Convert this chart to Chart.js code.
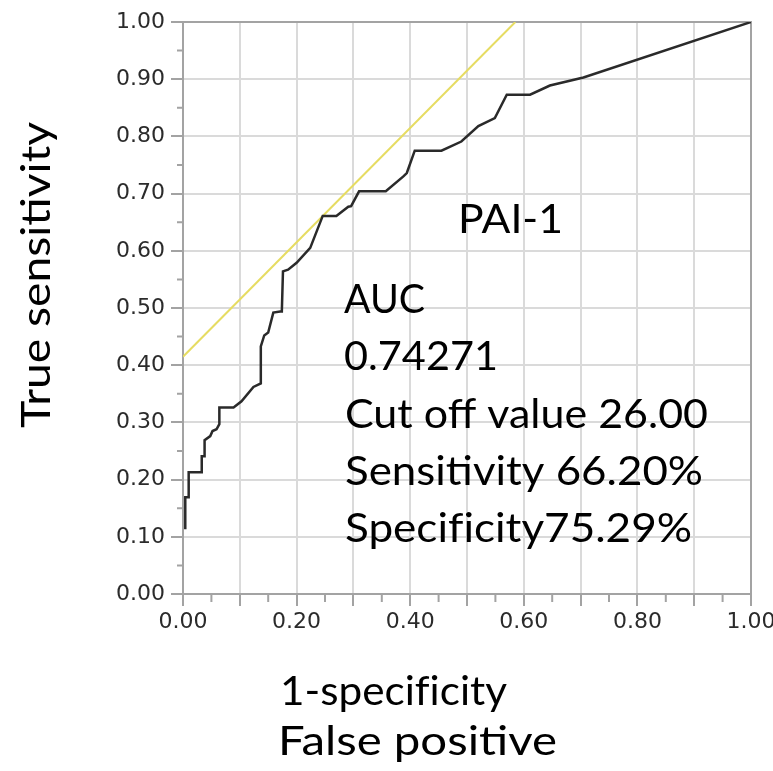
<!DOCTYPE html>
<html>
<head>
<meta charset="utf-8">
<title>PAI-1 ROC</title>
<script src="https://cdn.jsdelivr.net/npm/chart.js@4.4.1/dist/chart.umd.min.js"></script>
<style>
    html, body { margin: 0; padding: 0; background: #ffffff; }
    #wrap { width: 773px; height: 771px; position: relative; }
</style>
</head>
<body>
<div id="wrap"><canvas id="rocChart" width="773" height="771"></canvas></div>
<script>
// ROC curve points: false positive rate and true positive rate
const fprValues = [0.004, 0.004, 0.010, 0.010, 0.033, 0.033, 0.038, 0.038, 0.048, 0.052,
    0.059, 0.064, 0.064, 0.089, 0.103, 0.124, 0.137, 0.137, 0.143, 0.150,
    0.159, 0.171, 0.174, 0.176, 0.185, 0.200, 0.224, 0.246, 0.270, 0.291,
    0.296, 0.310, 0.357, 0.388, 0.394, 0.408, 0.455, 0.490, 0.520, 0.549,
    0.570, 0.611, 0.646, 0.705, 1.000];
const tprValues = [0.113, 0.169, 0.169, 0.213, 0.213, 0.241, 0.241, 0.269, 0.276, 0.285,
    0.288, 0.297, 0.326, 0.326, 0.337, 0.362, 0.368, 0.433, 0.452, 0.457,
    0.492, 0.494, 0.494, 0.564, 0.567, 0.579, 0.605, 0.661, 0.661, 0.677,
    0.678, 0.704, 0.704, 0.730, 0.736, 0.775, 0.775, 0.791, 0.818, 0.832,
    0.873, 0.873, 0.889, 0.903, 1.000];

// Summary numbers for the chosen cut off
const markerName = 'PAI-1';
const aucValue = '0.74271';
const cutOffValue = '26.00';
const sensitivity = 0.6620;
const specificity = 0.7529;

const tickValues = [0, 0.1, 0.2, 0.3, 0.4, 0.5, 0.6, 0.7, 0.8, 0.9, 1.0];

// tangent line through the cut off point (slope 1)
const intercept = sensitivity - (1 - specificity);
const tangentLine = [{x: 0, y: intercept}, {x: 1 - intercept, y: 1}];

const rocPoints = fprValues.map((x, i) => ({x: x, y: tprValues[i]}));

const AXIS_GRAY = '#a3a3a3';
const GRID_GRAY = '#dadada';
const LABEL_FONT = 'Lato, "Open Sans", sans-serif';

// draws text squeezed/stretched to a given width
function fitText(ctx, text, x, y, width, size, rotate) {
    // zero-width non-joiner after "f" so Lato doesn't draw the fi ligature
    const shown = text.replace(/f(?=[il])/g, 'f\u200C');
    ctx.save();
    ctx.font = size + 'px ' + LABEL_FONT;
    const w = ctx.measureText(shown).width;
    ctx.translate(x, y);
    if (rotate) ctx.rotate(-Math.PI / 2);
    ctx.scale(width / w, 1);
    ctx.fillStyle = '#000000';
    ctx.textBaseline = 'alphabetic';
    ctx.textAlign = 'left';
    ctx.fillText(shown, 0, 0);
    ctx.restore();
}

const framePlugin = {
    id: 'framePlugin',
    beforeDatasetsDraw(chart) {
        const ctx = chart.ctx;
        const a = chart.chartArea;
        ctx.save();
        ctx.strokeStyle = AXIS_GRAY;
        ctx.lineWidth = 2;
        ctx.strokeRect(a.left, a.top, a.right - a.left, a.bottom - a.top);

        // minor ticks half way between the labelled ones
        const xs = chart.scales.x;
        const ys = chart.scales.y;
        ctx.lineWidth = 2;
        ctx.beginPath();
        for (let i = 0; i < tickValues.length - 1; i++) {
            const v = (tickValues[i] + tickValues[i + 1]) / 2;
            const px = xs.getPixelForValue(v);
            ctx.moveTo(px, a.bottom);
            ctx.lineTo(px, a.bottom + 8);
            const py = ys.getPixelForValue(v);
            ctx.moveTo(a.left, py);
            ctx.lineTo(a.left - 6, py);
        }
        ctx.stroke();
        ctx.restore();
    },
    afterDraw(chart) {
        const ctx = chart.ctx;
        // axis titles
        fitText(ctx, 'True sensitivity', 50, 428, 306, 40, true);
        fitText(ctx, '1-specificity', 280, 705, 227, 40);
        fitText(ctx, 'False positive', 278, 755, 279, 40);
        // annotation block
        fitText(ctx, markerName, 458, 233, 105, 40);
        fitText(ctx, 'AUC', 344, 313, 81, 40);
        fitText(ctx, aucValue, 344, 370, 154, 40);
        fitText(ctx, 'Cut off value ' + cutOffValue, 345, 428, 363, 40);
        fitText(ctx, 'Sensitivity ' + (sensitivity * 100).toFixed(2) + '%', 345, 485, 358, 40);
        fitText(ctx, 'Specificity' + (specificity * 100).toFixed(2) + '%', 345, 542, 347, 40);
    }
};

const ctx = document.getElementById('rocChart').getContext('2d');
new Chart(ctx, {
    type: 'scatter',
    data: {
        datasets: [{
            data: rocPoints,
            showLine: true,
            borderColor: '#2a2a2a',
            borderWidth: 2.5,
            pointRadius: 0,
            tension: 0
        }, {
            data: tangentLine,
            showLine: true,
            borderColor: '#e6dc62',
            borderWidth: 2,
            pointRadius: 0
        }]
    },
    options: {
        responsive: false,
        animation: false,
        layout: { padding: { top: 22, right: 22, left: 0, bottom: 0 } },
        plugins: {
            legend: { display: false },
            tooltip: { enabled: false }
        },
        scales: {
            x: {
                type: 'linear',
                min: 0,
                max: 1,
                afterBuildTicks(scale) {
                    scale.ticks = tickValues.map(v => ({value: v}));
                },
                afterFit(scale) {
                    scale.height = 177;
                    scale.paddingLeft = 0;
                    scale.paddingRight = 0;
                },
                ticks: {
                    // only every other tenth carries a label
                    callback: (v, i) => (i % 2 === 0 ? v.toFixed(2) : ''),
                    color: '#2b2b2b',
                    font: { family: 'DejaVu Sans', size: 22 },
                    padding: 3,
                    maxRotation: 0,
                    autoSkip: false
                },
                grid: {
                    color: GRID_GRAY,
                    lineWidth: 2,
                    tickColor: AXIS_GRAY,
                    tickLength: 12
                },
                border: { color: AXIS_GRAY, width: 2 }
            },
            y: {
                type: 'linear',
                min: 0,
                max: 1,
                afterBuildTicks(scale) {
                    scale.ticks = tickValues.map(v => ({value: v}));
                },
                afterFit(scale) {
                    scale.width = 183;
                    scale.paddingTop = 0;
                    scale.paddingBottom = 0;
                },
                ticks: {
                    callback: v => v.toFixed(2),
                    color: '#2b2b2b',
                    font: { family: 'DejaVu Sans', size: 22 },
                    padding: 6,
                    autoSkip: false
                },
                grid: {
                    color: GRID_GRAY,
                    lineWidth: 2,
                    tickColor: AXIS_GRAY,
                    tickLength: 12
                },
                border: { color: AXIS_GRAY, width: 2 }
            }
        }
    },
    plugins: [framePlugin]
});
</script>
</body>
</html>
